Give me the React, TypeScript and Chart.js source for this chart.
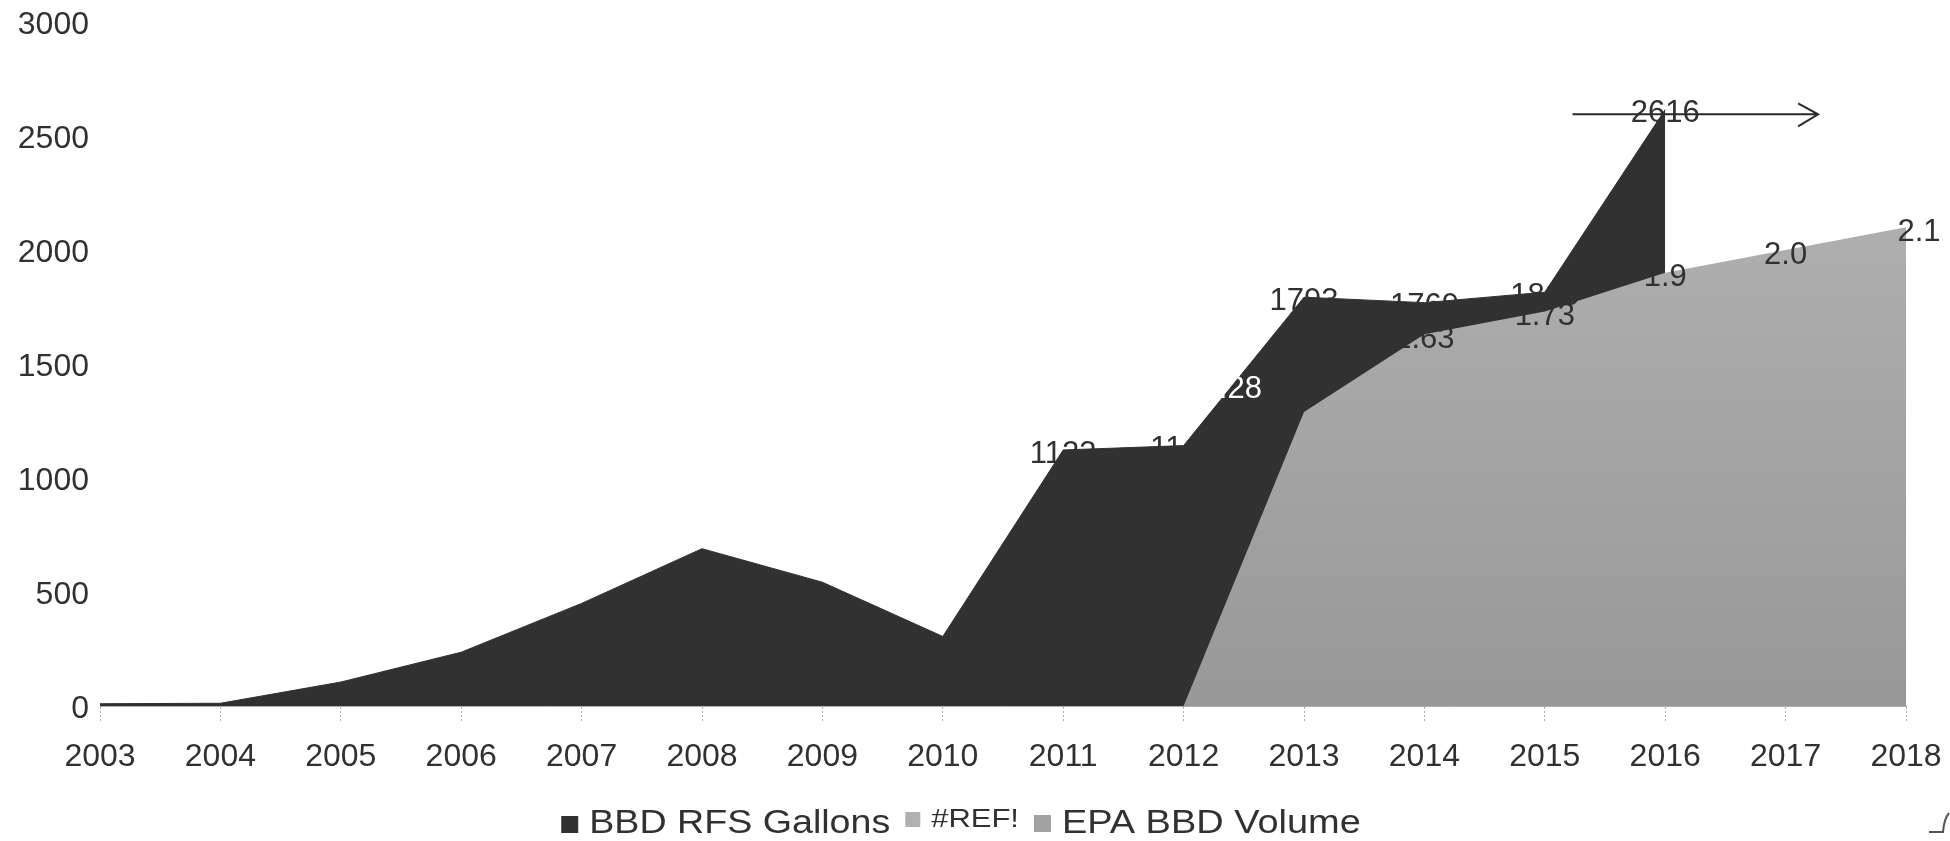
import React, { useEffect, useRef } from 'react';
import { Chart, registerables } from 'chart.js';

Chart.register(...registerables);

// ---------- data ----------
const years = ['2003', '2004', '2005', '2006', '2007', '2008', '2009', '2010', '2011', '2012', '2013', '2014', '2015', '2016', '2017', '2018'];
const bbdRfsGallons: (number | null)[] = [10, 12, 105, 236, 450, 690, 543, 305, 1123, 1142, 1793, 1769, 1815, 2616, null, null];
const refSeries: (number | null)[] = [null, null, null, null, null, null, null, null, null, null, null, null, null, null, null, null];
const epaBbdVolume: (number | null)[] = [null, null, null, null, null, null, null, null, null, 0, 1290, 1630, 1730, 1900, 2000, 2100];
const bbdLabels = ['', '', '', '', '', '', '', '', '1123', '1142', '1793', '1769', '1815', '2616', '', ''];
const epaLabels = ['', '', '', '', '', '', '', '', '', '', '', '1.63', '1.73', '1.9', '2.0', '2.1'];
const extraLabel = { text: '1.28', x: 9.4, value: 1390 };
const arrowFrom = 12.23;
const arrowTo = 14.27;
const arrowValue = 2595;
const yMin = 0;
const yMax = 3000;
const yStep = 500;
const legendNames = ['BBD RFS Gallons', '#REF!', 'EPA BBD Volume'];

const FONT = '"Liberation Sans", Arial, Helvetica, sans-serif';
const DARK = '#313131';
const TEXT = '#313131';

const overlayPlugin = {
  id: 'overlay',
  afterDatasetsDraw(chart: any) {
    const { ctx } = chart;
    const x = chart.scales.x;
    const y = chart.scales.y;
    ctx.save();
    ctx.font = `31px ${FONT}`;
    ctx.textAlign = 'center';
    ctx.textBaseline = 'middle';
    ctx.fillStyle = TEXT;
    bbdLabels.forEach((t, i) => {
      const v = bbdRfsGallons[i];
      if (!t || v == null) return;
      ctx.fillText(t, x.getPixelForValue(i), y.getPixelForValue(v) + 4);
    });
    epaLabels.forEach((t, i) => {
      const v = epaBbdVolume[i];
      if (!t || v == null) return;
      const nudge = i === epaLabels.length - 1 ? 13 : 0;
      ctx.fillText(t, x.getPixelForValue(i) + nudge, y.getPixelForValue(v) + 5);
    });
    ctx.fillStyle = '#ffffff';
    ctx.fillText(extraLabel.text, x.getPixelForValue(extraLabel.x), y.getPixelForValue(extraLabel.value));

    // arrow
    const ay = y.getPixelForValue(arrowValue);
    const ax0 = x.getPixelForValue(arrowFrom);
    const ax1 = x.getPixelForValue(arrowTo);
    ctx.strokeStyle = '#2a2a2a';
    ctx.lineWidth = 2;
    ctx.beginPath();
    ctx.moveTo(ax0, ay);
    ctx.lineTo(ax1, ay);
    ctx.moveTo(ax1 - 20, ay - 11);
    ctx.lineTo(ax1, ay);
    ctx.lineTo(ax1 - 20, ay + 12);
    ctx.stroke();
    ctx.restore();
  },
  afterDraw(chart: any) {
    const { ctx, width, height } = chart;
    ctx.save();
    const base = height - 8;
    const items = [
      { name: legendNames[0], color: DARK, size: 33, sx: 1.14, box: 17, boxTop: base - 17, baseline: base },
      { name: legendNames[1], color: '#b0b0b0', size: 26, sx: 1.19, box: 15, boxTop: base - 21, baseline: base - 6 },
      { name: legendNames[2], color: '#a2a2a2', size: 33, sx: 1.15, box: 17, boxTop: base - 18, baseline: base },
    ];
    const gapBox = 11;
    const gapItem = 15;
    const widths = items.map((it) => {
      ctx.font = `${it.size}px ${FONT}`;
      return ctx.measureText(it.name).width * it.sx;
    });
    let total = 0;
    items.forEach((it, i) => {
      total += it.box + gapBox + widths[i] + (i < items.length - 1 ? gapItem : 0);
    });
    let cx = width / 2 - 14 - total / 2;
    items.forEach((it, i) => {
      ctx.fillStyle = it.color;
      ctx.fillRect(cx, it.boxTop, it.box, it.box);
      cx += it.box + gapBox;
      ctx.save();
      ctx.font = `${it.size}px ${FONT}`;
      ctx.textAlign = 'left';
      ctx.textBaseline = 'alphabetic';
      ctx.fillStyle = TEXT;
      ctx.translate(cx, it.baseline);
      ctx.scale(it.sx, 1);
      ctx.fillText(it.name, 0, 0);
      ctx.restore();
      cx += widths[i] + gapItem;
    });
    // small corner mark
    ctx.strokeStyle = '#555';
    ctx.lineWidth = 2;
    ctx.beginPath();
    ctx.moveTo(width - 21, height - 9);
    ctx.lineTo(width - 7, height - 9);
    ctx.quadraticCurveTo(width - 6, height - 22, width - 1, height - 28);
    ctx.stroke();
    ctx.restore();
  },
};

export default function App() {
  const canvasRef = useRef<HTMLCanvasElement | null>(null);

  useEffect(() => {
    const canvas = canvasRef.current;
    if (!canvas) return;
    const chart = new Chart(canvas, {
      type: 'line',
      data: {
        labels: years,
        datasets: [
          {
            label: legendNames[0],
            data: bbdRfsGallons,
            borderColor: DARK,
            backgroundColor: DARK,
            borderWidth: 1,
            pointRadius: 0,
            fill: 'origin',
            tension: 0,
            order: 2,
          },
          {
            label: legendNames[1],
            data: refSeries,
            borderColor: '#b0b0b0',
            backgroundColor: '#b0b0b0',
            borderWidth: 0,
            pointRadius: 0,
            fill: false,
            order: 1,
          },
          {
            label: legendNames[2],
            data: epaBbdVolume,
            borderColor: 'rgba(0,0,0,0)',
            borderWidth: 0,
            pointRadius: 0,
            fill: 'origin',
            tension: 0,
            order: 0,
            backgroundColor: (c: any) => {
              const area = c.chart.chartArea;
              if (!area) return '#a5a5a5';
              const g = c.chart.ctx.createLinearGradient(0, area.top, 0, area.bottom);
              g.addColorStop(0, '#b8b8b8');
              g.addColorStop(1, '#989898');
              return g;
            },
          },
        ],
      },
      options: {
        responsive: false,
        animation: false,
        devicePixelRatio: 1,
        layout: { padding: { top: 22, right: 44, left: 0, bottom: 0 } },
        plugins: {
          legend: { display: false },
          tooltip: { enabled: false },
        },
        scales: {
          x: {
            type: 'category',
            offset: false,
            grid: {
              display: true,
              drawOnChartArea: false,
              drawTicks: true,
              tickLength: 17,
              tickColor: '#b0b0b0',
              tickWidth: 1,
              tickBorderDash: [2, 2],
            },
            border: { display: true, color: '#b0b0b0', width: 1, dash: [2, 1] },
            ticks: {
              font: { family: FONT, size: 32 },
              color: TEXT,
              padding: 15,
              maxRotation: 0,
              autoSkip: false,
            },
            afterFit: (scale: any) => {
              scale.height = 135;
              scale.paddingLeft = 0;
              scale.paddingRight = 0;
            },
          },
          y: {
            min: yMin,
            max: yMax,
            grid: { display: false, drawTicks: false },
            border: { display: false },
            ticks: {
              stepSize: yStep,
              font: { family: FONT, size: 32 },
              color: TEXT,
              padding: 11,
              labelOffset: 3,
              callback: (v: any) => String(v),
            },
            afterFit: (scale: any) => {
              scale.width = 100;
              scale.paddingTop = 0;
              scale.paddingBottom = 0;
            },
          },
        },
      },
      plugins: [overlayPlugin],
    });
    return () => chart.destroy();
  }, []);

  return (
    <div style={{ position: 'fixed', left: 0, top: 0, width: 1950, height: 841, background: '#ffffff' }}>
      <canvas ref={canvasRef} width={1950} height={841} style={{ display: 'block' }} />
    </div>
  );
}
